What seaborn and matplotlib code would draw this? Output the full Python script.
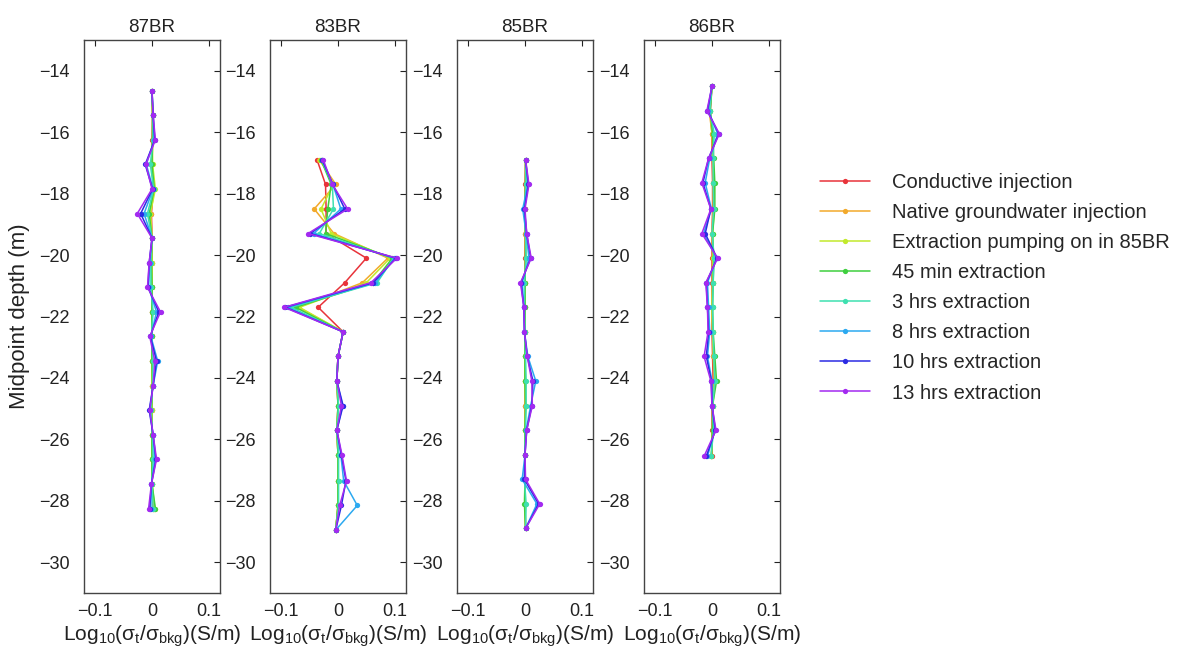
#!/usr/bin/env python3

import matplotlib
matplotlib.use("Agg")
import matplotlib.pyplot as plt
from matplotlib.lines import Line2D
import pandas as pd
import seaborn as sns

sns.set_theme(style="white")
plt.rcParams["font.family"] = ["Liberation Sans", "DejaVu Sans"]
plt.rcParams["mathtext.fontset"] = "custom"
plt.rcParams["mathtext.rm"] = "Liberation Sans"
plt.rcParams["mathtext.it"] = "Liberation Sans"

SERIES = [
    "Conductive injection",
    "Native groundwater injection",
    "Extraction pumping on in 85BR",
    "45 min extraction",
    "3 hrs extraction",
    "8 hrs extraction",
    "10 hrs extraction",
    "13 hrs extraction",
]
COLORS = ["#e8333a", "#f2a92b", "#c2ea2c", "#3fcf3f", "#3ee0b0", "#2ca9f0", "#2b2be3", "#a32af0"]

WELLS = ["87BR", "83BR", "85BR", "86BR"]

depth_87 = [-14.65, -15.45, -16.25, -17.05, -17.85, -18.65, -19.45, -20.25, -21.05,
            -21.85, -22.65, -23.45, -24.25, -25.05, -25.85, -26.65, -27.45, -28.25]
depth_83 = [-16.9, -17.7, -18.5, -19.3, -20.1, -20.9, -21.7, -22.5,
            -23.3, -24.1, -24.9, -25.7, -26.5, -27.35, -28.15, -28.95]
depth_85 = [-16.9, -17.7, -18.5, -19.3, -20.1, -20.9, -21.7, -22.5,
            -23.3, -24.1, -24.9, -25.7, -26.5, -27.3, -28.1, -28.9]
depth_86 = [-14.5, -15.3, -16.05, -16.85, -17.65, -18.5, -19.3, -20.1,
            -20.9, -21.7, -22.5, -23.3, -24.1, -24.9, -25.7, -26.55]

# one row per series, same order as SERIES
vals_87 = [
    [0.000, 0.001, 0.000, 0.000, 0.002, -0.001, 0.000, 0.000, 0.000, 0.000, 0.000, 0.000, 0.000, 0.000, 0.000, 0.000, 0.000, 0.002],
    [0.000, 0.001, 0.001, 0.000, 0.004, -0.002, 0.000, 0.000, 0.000, 0.000, 0.000, 0.000, 0.000, 0.000, 0.000, 0.000, 0.000, 0.004],
    [0.000, 0.001, 0.001, 0.001, 0.006, -0.003, 0.000, 0.000, 0.000, 0.000, 0.000, 0.000, 0.000, 0.000, 0.000, 0.000, 0.000, 0.005],
    [0.000, 0.001, 0.001, 0.000, 0.004, -0.005, 0.000, -0.001, 0.000, 0.000, 0.000, 0.000, 0.001, -0.001, 0.000, 0.000, 0.000, 0.006],
    [0.000, 0.002, 0.002, -0.003, 0.003, -0.008, 0.000, -0.002, -0.002, 0.002, -0.001, 0.002, 0.001, -0.002, 0.001, 0.002, 0.000, 0.002],
    [0.000, 0.002, 0.004, -0.010, 0.002, -0.014, 0.000, -0.004, -0.006, 0.008, -0.002, 0.010, 0.002, -0.004, 0.002, 0.005, -0.001, -0.002],
    [0.000, 0.002, 0.005, -0.012, 0.001, -0.020, 0.000, -0.005, -0.007, 0.012, -0.003, 0.008, 0.002, -0.005, 0.002, 0.007, -0.001, -0.004],
    [0.000, 0.002, 0.006, -0.011, 0.000, -0.026, 0.000, -0.005, -0.008, 0.015, -0.004, 0.005, 0.002, -0.004, 0.002, 0.008, -0.001, -0.006],
]
vals_83 = [
    [-0.037, -0.022, -0.021, -0.021, 0.050, 0.012, -0.035, 0.009, 0.000, -0.002, 0.000, -0.002, 0.000, 0.000, 0.000, -0.004],
    [-0.033, -0.004, -0.042, -0.007, 0.088, 0.043, -0.070, 0.009, 0.000, -0.002, 0.000, -0.002, 0.000, 0.000, 0.000, -0.004],
    [-0.031, -0.008, -0.030, -0.012, 0.092, 0.050, -0.068, 0.009, 0.000, -0.002, 0.000, -0.002, 0.000, 0.000, 0.000, -0.004],
    [-0.030, -0.012, -0.018, -0.022, 0.096, 0.062, -0.075, 0.009, 0.000, -0.002, 0.000, -0.002, 0.000, 0.000, 0.000, -0.004],
    [-0.029, -0.010, -0.008, -0.033, 0.098, 0.069, -0.083, 0.009, 0.000, -0.002, 0.001, -0.002, 0.001, 0.001, 0.001, -0.004],
    [-0.028, -0.009, 0.005, -0.043, 0.100, 0.066, -0.089, 0.009, 0.000, -0.002, 0.008, -0.002, 0.005, 0.010, 0.034, -0.004],
    [-0.028, -0.009, 0.012, -0.049, 0.102, 0.062, -0.093, 0.009, 0.000, -0.002, 0.009, -0.002, 0.006, 0.014, 0.006, -0.004],
    [-0.026, -0.010, 0.017, -0.053, 0.104, 0.058, -0.095, 0.009, 0.000, -0.002, 0.006, -0.002, 0.007, 0.015, 0.003, -0.004],
]
vals_85 = [
    [0.001, 0.000, 0.000, 0.000, 0.000, 0.000, 0.000, 0.000, 0.000, 0.000, 0.000, 0.000, 0.000, 0.000, 0.000, 0.001],
    [0.001, 0.001, 0.000, 0.000, 0.001, 0.000, 0.000, 0.000, 0.000, 0.000, 0.000, 0.000, 0.000, 0.000, 0.000, 0.001],
    [0.001, 0.001, 0.000, 0.001, 0.001, 0.000, 0.000, 0.000, 0.000, 0.000, 0.001, 0.000, 0.000, 0.000, 0.000, 0.001],
    [0.001, 0.001, 0.000, 0.001, 0.001, 0.000, 0.000, 0.000, 0.000, 0.000, 0.001, 0.000, 0.000, 0.000, -0.001, 0.001],
    [0.001, 0.002, -0.001, 0.001, 0.002, -0.001, -0.001, 0.000, 0.001, 0.002, 0.002, 0.001, 0.000, -0.001, 0.002, 0.001],
    [0.001, 0.005, -0.004, 0.002, 0.007, -0.005, -0.002, -0.001, 0.005, 0.019, 0.010, 0.002, 0.000, -0.005, 0.021, 0.001],
    [0.001, 0.006, -0.001, 0.003, 0.010, -0.007, -0.002, -0.001, 0.004, 0.014, 0.012, 0.003, 0.000, -0.001, 0.024, 0.001],
    [0.001, 0.007, 0.000, 0.003, 0.011, -0.008, -0.002, -0.001, 0.004, 0.012, 0.013, 0.003, 0.000, 0.001, 0.026, 0.001],
]
vals_86 = [
    [0.000, -0.003, 0.000, 0.000, 0.001, 0.001, 0.000, 0.000, 0.000, 0.000, 0.000, 0.001, 0.002, 0.000, 0.000, 0.000],
    [0.000, -0.005, 0.000, 0.001, 0.002, 0.002, 0.000, 0.001, 0.001, 0.000, 0.001, 0.002, 0.004, 0.001, 0.001, -0.001],
    [0.000, -0.004, 0.001, 0.002, 0.004, 0.004, 0.001, 0.002, 0.001, 0.000, 0.001, 0.003, 0.006, 0.001, 0.001, -0.001],
    [0.000, -0.003, 0.001, 0.003, 0.005, 0.005, 0.001, 0.003, 0.002, 0.001, 0.002, 0.005, 0.008, 0.001, 0.001, -0.001],
    [0.000, -0.004, 0.004, 0.002, 0.002, 0.003, 0.000, 0.004, 0.002, 0.001, 0.002, 0.003, 0.005, 0.001, 0.003, -0.002],
    [0.000, -0.007, 0.010, -0.004, -0.012, -0.001, -0.015, 0.008, -0.008, -0.006, -0.004, -0.008, 0.000, 0.000, 0.005, -0.008],
    [0.000, -0.008, 0.012, -0.006, -0.016, -0.002, -0.012, 0.009, -0.010, -0.008, -0.006, -0.010, -0.001, 0.000, 0.006, -0.010],
    [0.000, -0.009, 0.013, -0.006, -0.018, -0.002, -0.018, 0.010, -0.011, -0.008, -0.007, -0.014, -0.002, 0.000, 0.007, -0.014],
]

DEPTHS = {"87BR": depth_87, "83BR": depth_83, "85BR": depth_85, "86BR": depth_86}
VALUES = {"87BR": vals_87, "83BR": vals_83, "85BR": vals_85, "86BR": vals_86}


def build_frame(well: str) -> pd.DataFrame:
    rows = []
    for name, series_vals in zip(SERIES, VALUES[well]):
        for d, v in zip(DEPTHS[well], series_vals):
            rows.append({"series": name, "depth": d, "value": v})
    return pd.DataFrame(rows)


fig = plt.figure(figsize=(11.95, 6.6), dpi=100)
lefts = [84, 270, 457, 644]
xlabel = r"Log$_{10}$($\mathregular{\sigma_t/\sigma_{bkg}}$)(S/m)"

for well, left in zip(WELLS, lefts):
    ax = fig.add_axes([left / 1195, 1 - 593 / 660, 136 / 1195, 553 / 660])
    df = build_frame(well)
    sns.lineplot(
        data=df, x="value", y="depth", hue="series", hue_order=SERIES,
        palette=COLORS, sort=False, estimator=None, marker="o",
        markersize=3.8, markeredgewidth=0, linewidth=1.1, legend=False, ax=ax,
    )
    ax.set_xlim(-0.12, 0.12)
    ax.set_ylim(-31, -13)
    ax.set_xticks([-0.1, 0, 0.1])
    ax.set_xticklabels(["\u22120.1", "0", "0.1"])
    ax.set_yticks(range(-30, -13, 2))
    ax.tick_params(direction="in", length=4, width=0.8, labelsize=13, colors="#222222",
                   top=True, right=True)
    ax.tick_params(axis="x", pad=7)
    ax.tick_params(axis="y", pad=10)
    for spine in ax.spines.values():
        spine.set_color("#444444")
        spine.set_linewidth(1.0)
    ax.set_title(well, fontsize=13.5, pad=6, color="#222222")
    ax.set_xlabel(xlabel, fontsize=15, color="#222222", labelpad=3)
    ax.set_ylabel("")
    ax.grid(False)

fig.text(20 / 1195, 1 - 316 / 660, "Midpoint depth (m)", rotation=90, fontsize=16,
         va="center", ha="center", color="#222222")

handles = [
    Line2D([0], [0], color=c, lw=1.1, marker="o", markersize=3.8, markeredgewidth=0)
    for c in COLORS
]
fig.legend(handles, SERIES, loc="upper left", bbox_to_anchor=(820 / 1195, 1 - 173 / 660),
           frameon=False, fontsize=14.5, handlelength=2.5, handletextpad=1.1,
           labelspacing=0.55, borderaxespad=0, borderpad=0)

fig.savefig("out.png", dpi=100)
